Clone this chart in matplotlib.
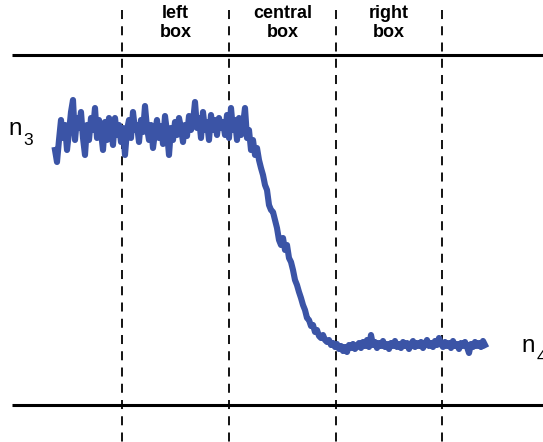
import matplotlib
matplotlib.use("Agg")
import matplotlib.pyplot as plt

plt.rcParams['font.family'] = ['Liberation Sans', 'DejaVu Sans']

# curve samples (x, y in picture pixels, y grows downwards), one every 2 px
curve_x = list(range(55, 486, 2))
plateau_y = [150, 162, 140, 120, 138, 125, 150, 132, 112, 100, 140, 118, 128, 112, 138, 155,
             125, 140, 118, 130, 108, 138, 120, 132, 150, 122, 140, 118, 130, 145, 118, 135,
             125, 142, 128, 155, 130, 120, 138, 112, 130, 125, 142, 120, 132, 106, 128, 140,
             125, 148, 132, 120, 138, 126, 144, 116, 132, 155, 128, 140, 122, 135, 118, 128,
             142, 125, 136, 116, 130, 122, 102, 128, 118, 138, 112, 130, 122, 140, 115, 130,
             120, 135, 118, 128, 122, 135, 115, 138, 108, 130, 120]
descent_y = [140, 118, 135, 125, 108, 138, 130, 150, 140, 155, 148, 160, 168, 175, 185, 190,
             205, 210, 212, 220, 228, 240, 245, 238, 250, 245, 258, 262, 270, 280, 285, 292,
             298, 305, 310, 318, 320, 326, 325, 332, 330, 336, 338, 335, 340, 342, 340, 345,
             343, 347]
flat_y = [344, 349, 346, 351, 347, 352, 345, 348, 344, 349, 346, 343, 348, 342, 346, 340,
          347, 335, 345, 342, 348, 343, 346, 341, 347, 344, 349, 343, 346, 341, 347, 344,
          348, 342, 346, 343, 349, 344, 341, 347, 343, 346, 342, 348, 344, 340, 346, 343,
          347, 341, 345, 338, 344, 347, 342, 346, 343, 348, 341, 346, 344, 349, 343, 346,
          342, 347, 353, 344, 347, 342, 346, 343, 347, 341, 345]
curve_y = plateau_y + descent_y + flat_y

box_edges = [122, 229, 336, 442]
box_names = ["left\nbox", "central\nbox", "right\nbox"]
walls_y = [55, 405]

fig = plt.figure(figsize=(5.43, 4.42), dpi=100)
ax = fig.add_axes([0, 0, 1, 1])
ax.set_xlim(0, 543)
ax.set_ylim(442, 0)
ax.axis("off")

for y in walls_y:
    ax.plot([12, 543], [y, y], color="black", lw=2.2, solid_capstyle="butt")

for x in box_edges:
    ax.plot([x, x], [10, 442], color="black", lw=1.3, ls=(0, (5, 4)))

for i, name in enumerate(box_names):
    xc = (box_edges[i] + box_edges[i + 1]) / 2
    ax.text(xc, 23, name, ha="center", va="center", fontsize=13,
            fontweight="bold", linespacing=1.2)

ax.plot(curve_x, curve_y, color="#3b54a6", lw=4.4, solid_joinstyle="round")

ax.text(8, 135, "n", fontsize=17.5, ha="left", va="baseline")
ax.text(23.5, 145, "3", fontsize=12.5, ha="left", va="baseline")
ax.text(521, 352, "n", fontsize=17.5, ha="left", va="baseline")
ax.text(537, 362, "4", fontsize=12.5, ha="left", va="baseline")

fig.savefig("out.png", dpi=100)
